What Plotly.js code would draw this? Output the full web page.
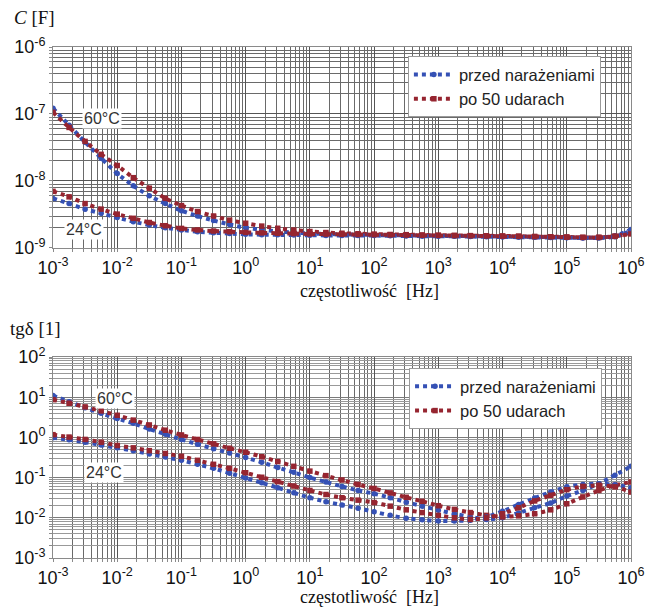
<!DOCTYPE html>
<html><head><meta charset="utf-8">
<script src="https://cdn.plot.ly/plotly-3.0.1.min.js"></script>
<style>html,body{margin:0;padding:0;background:#fff}#chart{width:645px;height:609px}</style>
</head><body><div id="chart"></div>
<script>
// frequency [Hz], quarter-decade steps
const freq = [0.001,0.00178,0.00316,0.00562,0.01,0.0178,0.0316,0.0562,0.1,0.178,0.316,0.562,1,1.78,3.16,5.62,10,17.8,31.6,56.2,100,178,316,562,1000,1780,3160,5620,1e4,1.78e4,3.16e4,5.62e4,1e5,1.78e5,3.16e5,5.62e5,1e6];

// capacitance C [F]
const capPrzed60 = [1.22e-7,6.8e-8,3.8e-8,2.19e-8,1.29e-8,8.5e-9,6.0e-9,4.6e-9,3.6e-9,3.0e-9,2.57e-9,2.24e-9,2.0e-9,1.87e-9,1.77e-9,1.70e-9,1.65e-9,1.62e-9,1.60e-9,1.58e-9,1.56e-9,1.55e-9,1.54e-9,1.53e-9,1.52e-9,1.51e-9,1.50e-9,1.49e-9,1.48e-9,1.47e-9,1.46e-9,1.45e-9,1.43e-9,1.42e-9,1.43e-9,1.52e-9,1.88e-9];
const capPo60 = [1.06e-7,6.3e-8,3.9e-8,2.5e-8,1.7e-8,1.12e-8,7.8e-9,5.5e-9,4.3e-9,3.5e-9,3.0e-9,2.6e-9,2.34e-9,2.12e-9,1.97e-9,1.85e-9,1.76e-9,1.70e-9,1.66e-9,1.63e-9,1.61e-9,1.59e-9,1.58e-9,1.56e-9,1.55e-9,1.54e-9,1.53e-9,1.52e-9,1.51e-9,1.50e-9,1.48e-9,1.47e-9,1.46e-9,1.44e-9,1.44e-9,1.50e-9,1.68e-9];
const capPrzed24 = [5.5e-9,4.6e-9,3.8e-9,3.3e-9,2.84e-9,2.47e-9,2.2e-9,2.0e-9,1.86e-9,1.75e-9,1.69e-9,1.64e-9,1.60e-9,1.58e-9,1.57e-9,1.56e-9,1.55e-9,1.54e-9,1.54e-9,1.53e-9,1.53e-9,1.52e-9,1.51e-9,1.50e-9,1.50e-9,1.49e-9,1.48e-9,1.47e-9,1.46e-9,1.45e-9,1.44e-9,1.43e-9,1.42e-9,1.41e-9,1.41e-9,1.47e-9,1.80e-9];
const capPo24 = [7.0e-9,5.8e-9,4.6e-9,3.8e-9,3.2e-9,2.77e-9,2.4e-9,2.15e-9,1.96e-9,1.86e-9,1.79e-9,1.75e-9,1.71e-9,1.68e-9,1.66e-9,1.64e-9,1.62e-9,1.61e-9,1.60e-9,1.59e-9,1.58e-9,1.57e-9,1.56e-9,1.55e-9,1.54e-9,1.53e-9,1.52e-9,1.51e-9,1.50e-9,1.49e-9,1.48e-9,1.47e-9,1.45e-9,1.44e-9,1.44e-9,1.49e-9,1.62e-9];

// loss factor tg delta [1]
const tgPrzed60 = [11.0,7.76,5.50,3.98,2.95,2.24,1.62,1.20,0.891,0.676,0.525,0.407,0.316,0.240,0.178,0.135,0.100,0.0776,0.0603,0.0479,0.0398,0.0316,0.0245,0.0195,0.0155,0.0126,0.0105,0.00912,0.0100,0.0132,0.0178,0.0234,0.0347,0.0479,0.0708,0.115,0.191];
const tgPo60 = [8.71,7.08,5.75,4.57,3.55,2.69,2.04,1.51,1.15,0.891,0.692,0.537,0.427,0.331,0.251,0.191,0.145,0.112,0.0871,0.0676,0.0537,0.0417,0.0324,0.0257,0.0200,0.0162,0.0135,0.0115,0.0105,0.0112,0.0126,0.0158,0.0224,0.0331,0.0479,0.0646,0.0776];
const tgPrzed24 = [0.977,0.871,0.759,0.646,0.550,0.468,0.389,0.324,0.269,0.214,0.170,0.129,0.0977,0.0741,0.0562,0.0417,0.0316,0.0251,0.0209,0.0174,0.0141,0.0115,0.00977,0.00891,0.00832,0.00832,0.00871,0.0105,0.0145,0.0214,0.0309,0.0437,0.0589,0.0676,0.0708,0.0661,0.0562];
const tgPo24 = [1.17,1.02,0.891,0.759,0.631,0.550,0.468,0.398,0.339,0.269,0.214,0.170,0.132,0.102,0.0794,0.0617,0.0479,0.0380,0.0316,0.0275,0.0240,0.0195,0.0158,0.0135,0.0115,0.0100,0.00912,0.0100,0.0126,0.0178,0.0263,0.0363,0.0501,0.0603,0.0646,0.0589,0.0437];

// tick labels
const xTickVals = [1e-3,1e-2,1e-1,1,10,100,1e3,1e4,1e5,1e6];
const xTickText = ['10<sup>-3</sup>','10<sup>-2</sup>','10<sup>-1</sup>','10<sup>0</sup>','10<sup>1</sup>','10<sup>2</sup>','10<sup>3</sup>','10<sup>4</sup>','10<sup>5</sup>','10<sup>6</sup>'];
const capTickVals = [1e-9,1e-8,1e-7,1e-6];
const capTickText = ['10<sup>-9</sup>','10<sup>-8</sup>','10<sup>-7</sup>','10<sup>-6</sup>'];
const tgTickVals = [1e-3,1e-2,1e-1,1,10,100];
const tgTickText = ['10<sup>-3</sup>','10<sup>-2</sup>','10<sup>-1</sup>','10<sup>0</sup>','10<sup>1</sup>','10<sup>2</sup>'];

const seriesNames = ['przed narażeniami','po 50 udarach'];
const tempLabels = ['60°C','24°C'];

const BLUE = '#3551b5', RED = '#962530';
const SANS = 'Liberation Sans, Arial, sans-serif';
const SERIF = 'Liberation Serif, Times New Roman, serif';

function minorVals(lo, hi){
  const v=[];
  for(let d=lo; d<hi; d++) for(let k=2;k<=9;k++) v.push(k*Math.pow(10,d));
  return v;
}

function trace(y, color, sym, name, xa, ya, leg, show){
  return {x:freq, y:y, type:'scatter', mode:'lines+markers', name:name,
    xaxis:xa, yaxis:ya, legend:leg, legendgroup:name+leg, showlegend:show,
    line:{color:color, width:4, dash:'dot', shape:'spline', smoothing:0.6},
    marker:{color:color, size:5.5, symbol:sym}};
}

const data = [
  trace(capPrzed60, BLUE, 'circle', seriesNames[0], 'x', 'y', 'legend', true),
  trace(capPo60, RED, 'square', seriesNames[1], 'x', 'y', 'legend', true),
  trace(capPrzed24, BLUE, 'circle', seriesNames[0], 'x', 'y', 'legend', false),
  trace(capPo24, RED, 'square', seriesNames[1], 'x', 'y', 'legend', false),
  trace(tgPrzed60, BLUE, 'circle', seriesNames[0], 'x2', 'y2', 'legend2', true),
  trace(tgPo60, RED, 'square', seriesNames[1], 'x2', 'y2', 'legend2', true),
  trace(tgPrzed24, BLUE, 'circle', seriesNames[0], 'x2', 'y2', 'legend2', false),
  trace(tgPo24, RED, 'square', seriesNames[1], 'x2', 'y2', 'legend2', false)
];

function axis(extra){
  return Object.assign({
    type:'log', showline:true, linecolor:'#8a8a8a', linewidth:1, mirror:true,
    showgrid:true, gridcolor:'#555', gridwidth:1, zeroline:false,
    ticks:'outside', ticklen:3, tickcolor:'#8a8a8a',
    tickfont:{family:SANS, size:18, color:'#111'},
    ticklabeloverflow:'allow',
    fixedrange:true
  }, extra);
}

const layout = {
  width:645, height:609,
  margin:{l:53, r:14, t:47, b:51},
  paper_bgcolor:'#fff', plot_bgcolor:'#fff',
  xaxis: axis({domain:[0,1], anchor:'y', range:[-3,6], tickmode:'array', tickvals:xTickVals, ticktext:xTickText,
    minor:{tickmode:'array', tickvals:minorVals(-3,6), showgrid:true, gridcolor:'#6a6a6a', gridwidth:1, ticks:'outside', ticklen:3, tickcolor:'#8a8a8a'}}),
  yaxis: axis({domain:[0.6067,1], anchor:'x', range:[-9,-6], tickmode:'array', tickvals:capTickVals, ticktext:capTickText,
    minor:{tickmode:'array', tickvals:minorVals(-9,-6), showgrid:true, gridcolor:'#6a6a6a', gridwidth:1, ticks:'outside', ticklen:3, tickcolor:'#8a8a8a'}}),
  xaxis2: axis({domain:[0,1], anchor:'y2', range:[-3,6], tickmode:'array', tickvals:xTickVals, ticktext:xTickText,
    minor:{tickmode:'array', tickvals:minorVals(-3,6), showgrid:true, gridcolor:'#6a6a6a', gridwidth:1, ticks:'outside', ticklen:3, tickcolor:'#8a8a8a'}}),
  yaxis2: axis({domain:[0,0.3933], anchor:'x2', range:[-3,2], tickmode:'array', tickvals:tgTickVals, ticktext:tgTickText,
    gridcolor:'#7a7a7a',
    minor:{tickmode:'array', tickvals:minorVals(-3,2), showgrid:true, gridcolor:'#999', gridwidth:1, ticks:'outside', ticklen:3, tickcolor:'#8a8a8a'}}),
  legend:{x:0.614, y:0.982, xanchor:'left', yanchor:'top', bgcolor:'#fff', bordercolor:'#9a9a9a', borderwidth:1,
    font:{family:SANS, size:16.5, color:'#222'}, itemwidth:40, tracegroupgap:0},
  legend2:{x:0.616, y:0.372, xanchor:'left', yanchor:'top', bgcolor:'#fff', bordercolor:'#9a9a9a', borderwidth:1,
    font:{family:SANS, size:16.5, color:'#222'}, itemwidth:40, tracegroupgap:0},
  showlegend:true,
  annotations:[
    {xref:'paper', yref:'paper', x:-0.071, y:1.058, xanchor:'left', yanchor:'middle', showarrow:false,
     text:'<i>C</i> [F]', font:{family:SERIF, size:19, color:'#111'}},
    {xref:'paper', yref:'paper', x:-0.078, y:0.450, xanchor:'left', yanchor:'middle', showarrow:false,
     text:'tgδ [1]', font:{family:SERIF, size:19, color:'#111'}},
    {xref:'paper', yref:'paper', x:0.548, y:0.522, xanchor:'center', yanchor:'middle', showarrow:false,
     text:'częstotliwość&nbsp;&nbsp;[Hz]', font:{family:SERIF, size:18, color:'#111'}},
    {xref:'paper', yref:'paper', x:0.548, y:-0.076, xanchor:'center', yanchor:'middle', showarrow:false,
     text:'częstotliwość&nbsp;&nbsp;[Hz]', font:{family:SERIF, size:18, color:'#111'}},
    {xref:'x', yref:'y', x:-2.24, y:-7.07, showarrow:false, text:tempLabels[0], bgcolor:'#fff',
     font:{family:SANS, size:16, color:'#333'}},
    {xref:'x', yref:'y', x:-2.52, y:-8.73, showarrow:false, text:tempLabels[1], bgcolor:'#fff',
     font:{family:SANS, size:16, color:'#333'}},
    {xref:'x2', yref:'y2', x:-2.04, y:0.97, showarrow:false, text:tempLabels[0], bgcolor:'#fff',
     font:{family:SANS, size:16, color:'#333'}},
    {xref:'x2', yref:'y2', x:-2.21, y:-0.87, showarrow:false, text:tempLabels[1], bgcolor:'#fff',
     font:{family:SANS, size:16, color:'#333'}}
  ]
};

Plotly.newPlot('chart', data, layout, {displayModeBar:false, staticPlot:true});
</script>
</body></html>
